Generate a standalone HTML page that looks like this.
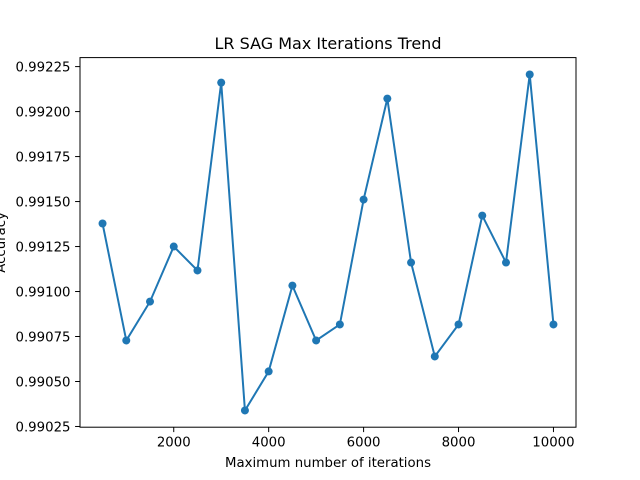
<!DOCTYPE html>
<html><head><meta charset="utf-8"><style>body{margin:0;background:#fff}svg{display:block}text{font-family:"DejaVu Sans","Liberation Sans",sans-serif;fill:#000}</style></head>
<body>
<svg id="c" width="640" height="480"></svg>
<script>
const iterations=[500,1000,1500,2000,2500,3000,3500,4000,4500,5000,5500,6000,6500,7000,7500,8000,8500,9000,9500,10000];
const accuracy=[0.991378,0.990728,0.990944,0.99125,0.991117,0.992161,0.990339,0.990556,0.991033,0.990728,0.990817,0.991511,0.992072,0.991161,0.990639,0.990817,0.991422,0.991161,0.992206,0.990817];
const xTicks=[2000,4000,6000,8000,10000];
const yTicks=[0.99025,0.9905,0.99075,0.991,0.99125,0.9915,0.99175,0.992,0.99225];
const NS='http://www.w3.org/2000/svg';
const svg=document.getElementById('c');
const L=80,R=576,T=57.6,B=427.2;
const xmin=25,xmax=10475,ymin=0.990246,ymax=0.9923;
const X=v=>L+(v-xmin)/(xmax-xmin)*(R-L);
const Y=v=>B-(v-ymin)/(ymax-ymin)*(B-T);
function el(t,a,p){const e=document.createElementNS(NS,t);for(const k in a)e.setAttribute(k,a[k]);(p||svg).appendChild(e);return e;}
const frame=el('rect',{x:L,y:T,width:R-L,height:B-T,fill:'none',stroke:'#000','stroke-width':1});


xTicks.forEach(v=>{const x=X(v);
 const t=el('line',{x1:x,x2:x,y1:B,y2:B+4.9,stroke:'#000','stroke-width':1});
 
 
 const l=el('text',{x:x,y:B+19.5,'text-anchor':'middle','font-size':13.3});l.textContent=v;
 
 });
yTicks.forEach(v=>{const y=Y(v);
 const t=el('line',{x1:L-4.9,x2:L,y1:y,y2:y,stroke:'#000','stroke-width':1});
 
 
 const l=el('text',{x:L-9.5,y:y+4.8,'text-anchor':'end','font-size':13.3});l.textContent=v.toFixed(5);
 
 });
const line=el('polyline',{points:iterations.map((v,i)=>X(v)+','+Y(accuracy[i])).join(' '),fill:'none',stroke:'#1f77b4','stroke-width':2});


iterations.forEach((v,i)=>{const c=el('circle',{cx:X(v),cy:Y(accuracy[i]),r:4,fill:'#1f77b4'});
 
 });
const ti=el('text',{x:(L+R)/2,y:T-8.5,'text-anchor':'middle','font-size':16});ti.textContent='LR SAG Max Iterations Trend';


const xl=el('text',{x:(L+R)/2,y:467,'text-anchor':'middle','font-size':13.3});xl.textContent='Maximum number of iterations';


const yl=el('text',{x:0,y:0,'text-anchor':'middle','font-size':13.3,transform:'translate(5,'+((T+B)/2)+') rotate(-90)'});yl.textContent='Accuracy';


</script>
</body></html>
